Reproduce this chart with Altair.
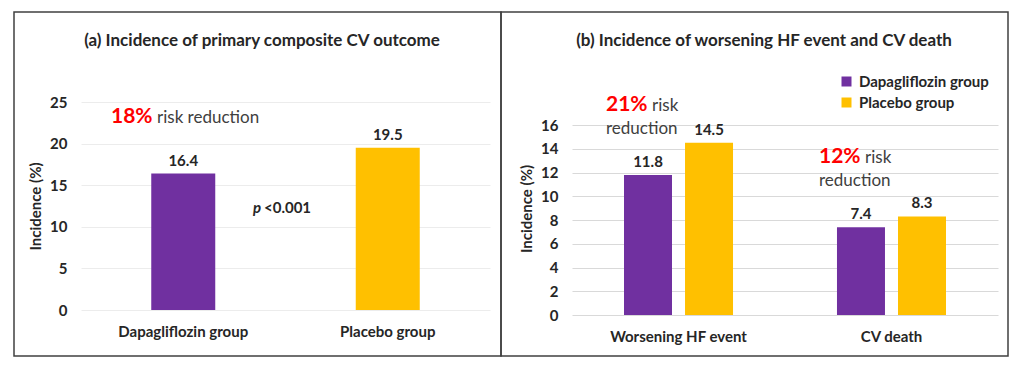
import altair as alt
import pandas as pd

FONT = "Lato"
TXT = "#262626"

groups = ["Dapagliflozin group", "Placebo group"]
colors = ["#7030A0", "#FFC000"]

a_groups = ["Dapagliflozin group", "Placebo group"]
a_values = [16.4, 19.5]
a_ticks = [0, 5, 10, 15, 20, 25]

b_events = ["Worsening HF event", "Worsening HF event", "CV death", "CV death"]
b_groups = ["Dapagliflozin group", "Placebo group", "Dapagliflozin group", "Placebo group"]
b_values = [11.8, 14.5, 7.4, 8.3]
b_event_order = ["Worsening HF event", "CV death"]
b_ticks = [0, 2, 4, 6, 8, 10, 12, 14, 16]

title_a = "(a) Incidence of primary composite CV outcome"
title_b = "(b) Incidence of worsening HF event and CV death"
y_title = "Incidence (%)"

df_a = pd.DataFrame({"group": a_groups, "value": a_values})
df_b = pd.DataFrame({"event": b_events, "group": b_groups, "value": b_values})
one = pd.DataFrame({"k": [0]})

W_A, H_A = 409, 208
W_B, H_B = 426, 213

legend = alt.Legend(
    title=None, orient="none", legendX=758, legendY=-28,
    symbolType="square", symbolSize=100, symbolStrokeWidth=0,
    labelFont=FONT, labelFontSize=15, labelFontWeight="bold", labelColor=TXT,
    labelOffset=5, rowPadding=5,
)
color = alt.Color("group:N", scale=alt.Scale(domain=groups, range=colors), legend=legend)


def y_axis(ticks, grid_color):
    return alt.Axis(
        values=ticks, title=y_title, grid=True, gridColor=grid_color, domain=False, ticks=False,
        labelFont=FONT, labelFontSize=15, labelFontWeight="bold", labelColor=TXT, labelPadding=14,
        titleFont=FONT, titleFontSize=15, titleFontWeight="bold", titleColor=TXT, titlePadding=6,
    )


x_axis = alt.Axis(
    title=None, labelAngle=0, domain=False, ticks=False, labelFont=FONT, labelFontSize=15,
    labelFontWeight="bold", labelColor=TXT, labelPadding=14,
)


def txt(text, x, y, size, color=TXT, weight="normal", style="normal", align="left"):
    return alt.Chart(one).mark_text(
        text=text, font=FONT, fontSize=size, fontWeight=weight, fontStyle=style,
        color=color, align=align, baseline="middle",
    ).encode(x=alt.value(x), y=alt.value(y))


def border(x1, x2, y1, y2):
    return alt.Chart(one).mark_rect(fill="transparent", stroke="#404040", strokeWidth=1.5).encode(
        x=alt.value(x1), x2=alt.value(x2), y=alt.value(y1), y2=alt.value(y2)
    )


# Panel (a)
ya = alt.Y("value:Q", scale=alt.Scale(domain=[0, 25], nice=False), axis=y_axis(a_ticks, "#ececec"))
xa = alt.X("group:N", sort=a_groups, scale=alt.Scale(paddingInner=0.5, paddingOuter=0.25), axis=x_axis)
base_a = alt.Chart(df_a).encode(x=xa, y=ya)
bars_a = base_a.mark_bar(size=64).encode(color=color)
labels_a = base_a.mark_text(font=FONT, fontSize=15, fontWeight="bold", color=TXT, dy=-13).encode(
    text=alt.Text("value:Q", format=".1f")
)
panel_a = alt.layer(
    border(-67, 420, -90, 254),
    bars_a,
    labels_a,
    txt(title_a, 181, -61, 17, weight="bold", align="center"),
    txt("18%", 30, 15, 21, color="#FF0000", weight="bold"),
    txt("risk reduction", 76, 16, 17, color="#404040"),
    txt("p", 172, 106, 15, weight="bold", style="italic"),
    txt("<0.001", 183, 106, 15, weight="bold"),
).properties(width=W_A, height=H_A)

# Panel (b)
yb = alt.Y("value:Q", scale=alt.Scale(domain=[0, 17.94], nice=False), axis=y_axis(b_ticks, "#d9d9d9"))
xb = alt.X("event:N", sort=b_event_order, scale=alt.Scale(paddingInner=0.427, paddingOuter=0.2136), axis=x_axis)
xo = alt.XOffset("group:N", sort=groups, scale=alt.Scale(paddingInner=0, paddingOuter=0))
base_b = alt.Chart(df_b).encode(x=xb, xOffset=xo, y=yb)
bars_b = base_b.mark_bar(size=48).encode(color=color)
labels_b = base_b.mark_text(font=FONT, fontSize=15, fontWeight="bold", color=TXT, dy=-13).encode(
    text=alt.Text("value:Q", format=".1f")
)
panel_b = alt.layer(
    border(-71, 436, -90, 254),
    bars_b,
    labels_b,
    txt(title_b, 192, -61, 17, weight="bold", align="center"),
    txt("21%", 34, 3, 21, color="#FF0000", weight="bold"),
    txt("risk", 80, 4, 17, color="#404040"),
    txt("reduction", 34, 27, 17, color="#404040"),
    txt("12%", 247, 55, 21, color="#FF0000", weight="bold"),
    txt("risk", 293, 56, 17, color="#404040"),
    txt("reduction", 247, 79, 17, color="#404040"),
).properties(width=W_B, height=H_B)

chart = alt.hconcat(panel_a, panel_b, spacing=82, bounds="flush").properties(
    padding={"left": 5, "top": 3, "right": 5, "bottom": 5},
    background="white",
).configure_view(stroke=None)

chart.save("out.html", embed_options={"renderer": "svg", "actions": False})
